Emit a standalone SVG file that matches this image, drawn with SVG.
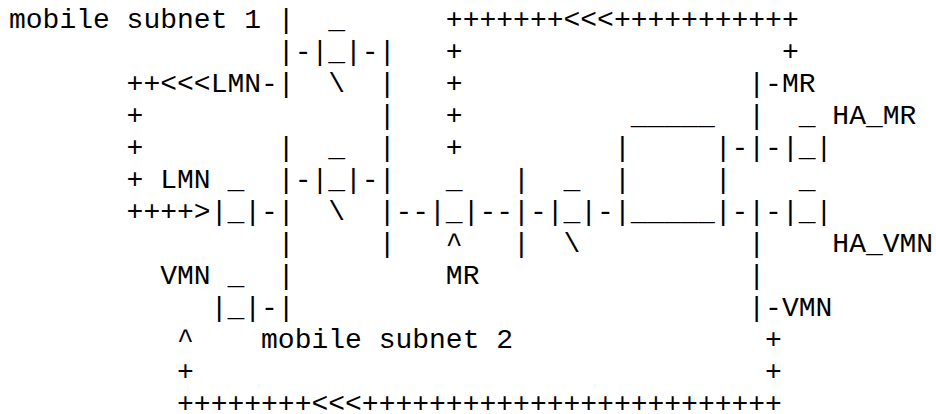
<svg xmlns="http://www.w3.org/2000/svg" width="936" height="414" viewBox="0 0 936 414">
<style>
text { font-family: "Liberation Mono", "Courier New", monospace; font-size: 28px; fill: #000; white-space: pre; }
</style>
<rect width="936" height="414" fill="#fff"/>
<g id="ascii" xml:space="preserve">
<text x="9" y="28">mobile subnet 1 |  _      +++++++&lt;&lt;&lt;+++++++++++</text>
<text x="9" y="60">                |-|_|-|   +                   +</text>
<text x="9" y="92">       ++&lt;&lt;&lt;LMN-|  \  |   +                 |-MR</text>
<text x="9" y="124">       +              |   +          _____  |  _ HA_MR</text>
<text x="9" y="156">       +        |  _  |   +         |     |-|-|_|</text>
<text x="9" y="188">       + LMN _  |-|_|-|   _   |  _  |     |    _</text>
<text x="9" y="220">       ++++&gt;|_|-|  \  |--|_|--|-|_|-|_____|-|-|_|</text>
<text x="9" y="252">                |     |   ^   |  \          |    HA_VMN</text>
<text x="9" y="284">         VMN _  |         MR                |</text>
<text x="9" y="316">            |_|-|                           |-VMN</text>
<text x="9" y="348">          ^    mobile subnet 2               +</text>
<text x="9" y="380">          +                                  +</text>
<text x="9" y="412">          ++++++++&lt;&lt;&lt;+++++++++++++++++++++++++</text>
</g>
</svg>
